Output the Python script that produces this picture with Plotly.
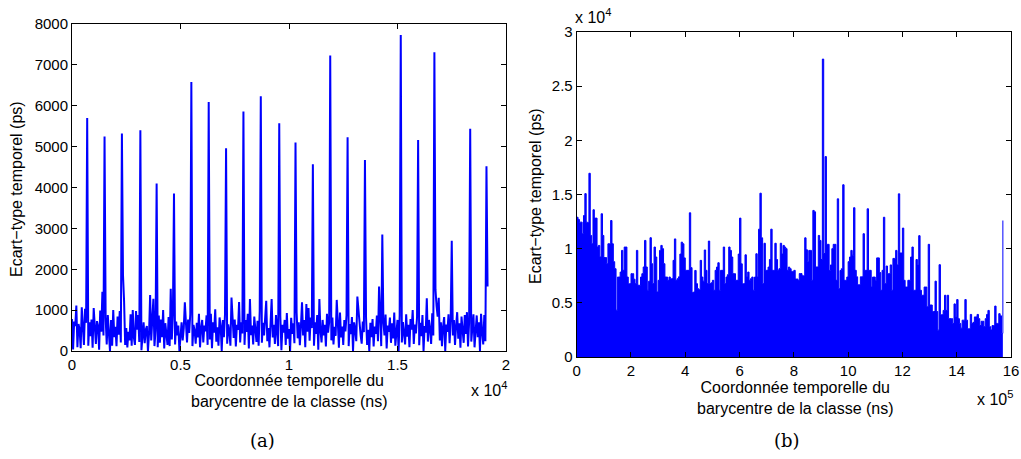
import numpy as np
import plotly.graph_objects as go

# ---------------- data: panel (a) ----------------
# sample spacing of the class barycentres (ns)
step_a = 50
# background jitter of the standard deviation (ps), one value per sample
base_a = [
    780, 40, 720, 610, 1110, 90, 660, 520, 70, 1070, 600, 150, 1030, 690, 600, 130,
    700, 360, 770, 80, 1050, 530, 170, 730, 610, 30, 990, 470, 1450, 380, 600, 820,
    160, 880, 520, 0, 760, 130, 1000, 340, 590, 120, 840, 400, 980, 210, 600, 1850,
    1220, 150, 560, 90, 470, 260, 900, 130, 1000, 330, 150, 980, 520, 880, 220, 600,
    20, 540, 700, 190, 520, 610, 0, 430, 1370, 260, 660, 1280, 120, 500, 600, 90,
    870, 200, 770, 340, 1000, 60, 680, 450, 150, 830, 120, 1520, 280, 900, 600, 160,
    720, 380, 620, 0, 480, 700, 260, 560, 1190, 530, 210, 770, 440, 900, 600, 120,
    640, 500, 180, 690, 330, 910, 90, 560, 760, 210, 620, 480, 870, 150, 600, 280,
    910, 70, 700, 450, 1020, 230, 580, 130, 820, 610, 0, 760, 340, 890, 600, 180,
    650, 480, 130, 1310, 560, 320, 770, 110, 640, 520, 1200, 210, 700, 430, 600, 150,
    760, 470, 910, 60, 1270, 390, 620, 160, 840, 550, 220, 740, 130, 980, 600, 200,
    690, 380, 870, 1230, 240, 560, 90, 720, 1270, 330, 640, 170, 880, 460, 120, 600,
    860, 20, 640, 450, 760, 150, 930, 300, 540, 0, 810, 420, 680, 190, 600, 950,
    310, 700, 140, 620, 1190, 380, 760, 90, 1150, 470, 1050, 250, 820, 560, 600, 130,
    700, 420, 880, 30, 1270, 500, 210, 760, 380, 640, 110, 910, 450, 700, 600, 260,
    820, 160, 590, 370, 1250, 700, 80, 940, 330, 600, 150, 760, 480, 870, 600, 120,
    660, 410, 830, 0, 700, 520, 240, 1330, 950, 610, 390, 180, 720, 460, 600, 810,
    150, 520, 0, 690, 340, 780, 110, 600, 420, 870, 240, 1580, 560, 120, 600, 700,
    380, 890, 60, 620, 470, 820, 200, 680, 310, 940, 130, 570, 760, 0, 880, 600,
    210, 710, 480, 160, 900, 350, 640, 90, 780, 520, 1000, 170, 650, 430, 820, 600,
    140, 690, 360, 880, 0, 610, 450, 1290, 230, 760, 540, 170, 920, 380, 600, 1500,
    1100, 840, 1300, 260, 700, 120, 590, 830, 0, 650, 470, 900, 190, 720, 600, 380,
    760, 150, 620, 950, 300, 680, 80, 840, 510, 200, 880, 420, 950, 110, 700, 600,
    230, 640, 900, 90, 580, 870, 340, 700, 0, 910, 460, 160, 880, 240, 600, 1580,
]
# periodic spikes: positions (ns) and heights (ps)
spike_x_a = [700, 1500, 2300, 3150, 3900, 4700, 5500, 6300, 7100, 7900, 8700, 9550,
             10300, 11100, 11900, 12700, 13500, 14300, 15150, 15950, 16700, 17500,
             18350, 19100]
spike_y_a = [5700, 5250, 5320, 5400, 4100, 3850, 6580, 6090, 4960, 5860, 6230, 5570,
             5100, 4570, 7230, 5230, 4670, 2850, 7730, 5160, 7310, 2700, 5440, 4520]

# ---------------- data: panel (b) ----------------
step_b = 5000
vals_b = [
    12900, 12700, 12450, 12450, 11380, 13060, 15080, 12450, 12400, 16960,
    11220, 10450, 13590, 12820, 12820, 10150, 10300, 9230, 13220, 11220,
    9180, 9180, 8610, 10450, 10450, 12600, 10450, 8800, 8150, 4320,
    7380, 7380, 7840, 9840, 8000, 10150, 10150, 7380, 6770, 6770,
    7690, 7690, 7180, 6770, 9840, 6620, 6620, 7380, 7690, 8310,
    10760, 8310, 6160, 7000, 11010, 8610, 6770, 10150, 9230, 6000,
    7080, 9840, 10300, 10000, 8610, 7380, 7380, 7080, 7380, 7230,
    7230, 8920, 10900, 7080, 7230, 7400, 9500, 10600, 10450, 9150,
    8000, 8000, 8000, 13310, 8250, 5940, 6000, 7990, 6770, 6300,
    6200, 8920, 7380, 7000, 9880, 8000, 6770, 10700, 6770, 6850,
    7080, 6160, 8000, 8300, 8700, 6160, 8000, 8000, 10150, 6770,
    7380, 7600, 10150, 9840, 9230, 7690, 7690, 7080, 7080, 9500,
    12820, 8600, 6770, 6770, 9430, 7380, 7840, 7080, 7230, 7380,
    6160, 7380, 9530, 7380, 11800, 15120, 11000, 6770, 10500, 8000,
    8000, 8300, 9000, 11800, 8000, 8000, 10500, 9000, 8000, 8150,
    10500, 9500, 10300, 10150, 10000, 8000, 8300, 8150, 7900, 7900,
    8000, 7200, 7200, 7080, 7700, 7700, 7500, 7500, 11000, 9900,
    8800, 9840, 9840, 7080, 13530, 13400, 8310, 8310, 11220, 10760,
    9000, 27500, 9550, 18500, 10400, 10400, 7990, 8500, 10000, 10400,
    10400, 7080, 14600, 6300, 7990, 8150, 15900, 7080, 7080, 7380,
    8800, 9230, 9840, 9400, 13780, 8000, 7400, 6660, 6660, 7400,
    7400, 11380, 8000, 8000, 13680, 8000, 8000, 6460, 7380, 7380,
    7080, 9150, 9150, 7800, 6160, 8000, 12900, 6770, 8400, 7690,
    7690, 8500, 6160, 9100, 9100, 9840, 8500, 15060, 9600, 9600,
    11900, 7080, 6460, 6460, 7080, 7080, 9230, 10150, 6160, 6160,
    9000, 8500, 11200, 6160, 5700, 5700, 6460, 6460, 4630, 10400,
    4800, 4800, 4200, 4200, 7000, 4200, 2480, 8520, 3900, 3900,
    4300, 5700, 4300, 5700, 3540, 3540, 3540, 3100, 4900, 3700,
    5300, 3540, 3100, 2660, 3400, 3400, 5300, 3400, 2600, 2600,
    3930, 3100, 3200, 3700, 3700, 3930, 3540, 2900, 3300, 3300,
    2800, 3540, 3930, 4300, 2800, 2500, 2900, 2900, 4700, 3100,
    3100, 4000, 3800, 2180, 12600,
]

# axis ticks / labels
xt_a = [0, 5000, 10000, 15000, 20000]
xl_a = ["0", "0.5", "1", "1.5", "2"]
yt_a = [0, 1000, 2000, 3000, 4000, 5000, 6000, 7000, 8000]
yl_a = ["0", "1000", "2000", "3000", "4000", "5000", "6000", "7000", "8000"]
xt_b = [0, 200000, 400000, 600000, 800000, 1000000, 1200000, 1400000, 1600000]
xl_b = ["0", "2", "4", "6", "8", "10", "12", "14", "16"]
yt_b = [0, 5000, 10000, 15000, 20000, 25000, 30000]
yl_b = ["0", "0.5", "1", "1.5", "2", "2.5", "3"]

# ---------------- build series ----------------
y_a = np.array(base_a, dtype=float)
x_a = np.arange(len(y_a)) * step_a
for sx, sy in zip(spike_x_a, spike_y_a):
    y_a[int(round(sx / step_a))] = sy

y_b = np.array(vals_b, dtype=float)
x_b = np.arange(len(y_b)) * step_b

W, H = 1021, 459
def px(x):
    return x / W
def py(y):
    return 1 - y / H

BLUE = "#0000FF"
FONT = "Liberation Sans"

fig = go.Figure()
fig.add_trace(go.Scatter(x=x_a, y=y_a, mode="lines",
                         line=dict(color=BLUE, width=2),
                         xaxis="x", yaxis="y", showlegend=False))
fig.add_trace(go.Scatter(x=x_b, y=y_b, mode="lines", fill="tozeroy",
                         fillcolor=BLUE, line=dict(color=BLUE, width=1, shape="hv"),
                         xaxis="x2", yaxis="y2", showlegend=False))

axis_common = dict(showline=True, linecolor="black", linewidth=1, mirror="ticks",
                   ticks="inside", ticklen=5, tickcolor="black", tickwidth=1,
                   showgrid=False, zeroline=False, automargin=False,
                   tickfont=dict(family=FONT, size=15, color="black"))

fig.update_layout(
    width=W, height=H,
    margin=dict(l=0, r=0, t=0, b=0, pad=0, autoexpand=False),
    paper_bgcolor="white", plot_bgcolor="white",
    xaxis=dict(domain=[px(72), px(506)], range=[0, 20000], tickvals=xt_a,
               ticktext=xl_a, anchor="y", **axis_common),
    yaxis=dict(domain=[py(351), py(24)], range=[0, 8000], tickvals=yt_a,
               ticktext=yl_a, anchor="x", **axis_common),
    xaxis2=dict(domain=[px(576.7), px(1011)], range=[0, 1600000], tickvals=xt_b,
                ticktext=xl_b, anchor="y2", **axis_common),
    yaxis2=dict(domain=[py(357), py(32)], range=[0, 30000], tickvals=yt_b,
                ticktext=yl_b, anchor="x2", **axis_common),
)

lab = dict(family=FONT, size=16, color="black")
ann = []
xtitle = "Coordonnée temporelle du<br>barycentre de la classe (ns)"
ann.append(dict(x=px(289), y=py(391), text=xtitle, font=lab))
ann.append(dict(x=px(795), y=py(398), text=xtitle, font=lab))
ytitle = "Ecart\u2212type temporel (ps)"
ann.append(dict(x=px(16), y=py(189), text=ytitle, font=lab, textangle=-90))
ann.append(dict(x=px(536), y=py(196), text=ytitle, font=lab, textangle=-90))
ann.append(dict(x=px(489), y=py(389), text="x 10<sup>4</sup>", font=lab))
ann.append(dict(x=px(995), y=py(398), text="x 10<sup>5</sup>", font=lab))
ann.append(dict(x=px(593), y=py(16), text="x 10<sup>4</sup>", font=lab))
cap = dict(family="DejaVu Serif", size=18, color="black")
ann.append(dict(x=px(262), y=py(440), text="(a)", font=cap))
ann.append(dict(x=px(787), y=py(440), text="(b)", font=cap))
for a in ann:
    a.update(xref="paper", yref="paper", showarrow=False,
             xanchor="center", yanchor="middle")
fig.update_layout(annotations=ann)

fig.write_html("out.html",
               config={"displayModeBar": False, "staticPlot": True},
               post_script="document.body.style.margin='0';"
                           "document.body.style.overflow='hidden';")
